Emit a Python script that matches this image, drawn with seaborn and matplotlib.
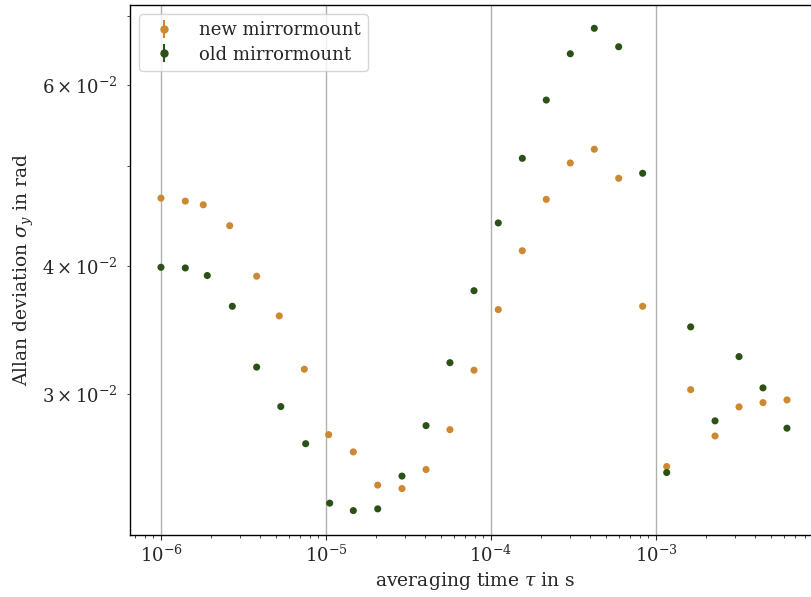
import numpy as np
import pandas as pd
import matplotlib
matplotlib.use("Agg")
import matplotlib.pyplot as plt
import seaborn as sns

# ---- data ----
tau_new = [1.00e-6, 1.404e-6, 1.804e-6, 2.609e-6, 3.80e-6, 5.21e-6, 7.39e-6,
           1.038e-5, 1.464e-5, 2.058e-5, 2.888e-5, 4.04e-5, 5.64e-5, 7.89e-5,
           1.107e-4, 1.548e-4, 2.163e-4, 3.024e-4, 4.227e-4, 5.94e-4, 8.30e-4,
           1.161e-3, 1.622e-3, 2.279e-3, 3.185e-3, 4.45e-3, 6.22e-3]
adev_new = [0.04655, 0.04624, 0.04586, 0.04376, 0.03907, 0.03574, 0.03171,
            0.02738, 0.02634, 0.02445, 0.02426, 0.02532, 0.02769, 0.03164,
            0.03625, 0.04137, 0.04642, 0.05037, 0.05195, 0.04867, 0.03652,
            0.02549, 0.03029, 0.02730, 0.02914, 0.02942, 0.02960]

tau_old = [1.00e-6, 1.404e-6, 1.908e-6, 2.706e-6, 3.80e-6, 5.32e-6, 7.53e-6,
           1.053e-5, 1.464e-5, 2.058e-5, 2.888e-5, 4.04e-5, 5.64e-5, 7.89e-5,
           1.107e-4, 1.548e-4, 2.163e-4, 3.024e-4, 4.227e-4, 5.94e-4, 8.30e-4,
           1.161e-3, 1.622e-3, 2.279e-3, 3.185e-3, 4.45e-3, 6.22e-3]
adev_old = [0.03986, 0.03980, 0.03913, 0.03652, 0.03186, 0.02916, 0.02683,
            0.02348, 0.02309, 0.02318, 0.02495, 0.02794, 0.03218, 0.03782,
            0.04403, 0.05090, 0.05801, 0.06436, 0.06814, 0.06538, 0.04922,
            0.02515, 0.03487, 0.02824, 0.03262, 0.03041, 0.02778]

labels = ["new mirrormount", "old mirrormount"]
colors = ["#CD8832", "#2C5117"]

df = pd.concat([
    pd.DataFrame({"tau": tau_new, "adev": adev_new, "series": labels[0]}),
    pd.DataFrame({"tau": tau_old, "adev": adev_old, "series": labels[1]}),
], ignore_index=True)

sns.set_style("ticks")
plt.rcParams["font.family"] = ["DejaVu Serif"]
plt.rcParams["mathtext.fontset"] = "dejavuserif"
plt.rcParams["font.size"] = 13

fig = plt.figure(figsize=(8.12, 5.97), dpi=100)
ax = fig.add_axes([130 / 812, 62 / 597, 690 / 812, 530 / 597])

sns.scatterplot(data=df, x="tau", y="adev", hue="series",
                palette=dict(zip(labels, colors)), s=26, linewidth=0,
                legend=False, ax=ax, zorder=3)

ax.set_xscale("log")
ax.set_yscale("log")
ax.set_xlim(6.49e-7, 9.86e-3)
ax.set_ylim(0.02186, 0.0718)
ax.grid(True, which="major", color="#b0b0b0", linewidth=1.0)
ax.set_axisbelow(True)

# legend with errorbar-style handles
handles = []
for lab, tx, ay, c in [(labels[0], tau_new, adev_new, colors[0]),
                       (labels[1], tau_old, adev_old, colors[1])]:
    h = ax.errorbar(tx[:1], ay[:1], yerr=[0], fmt="o", ms=5, color=c,
                    elinewidth=1.5, label=lab)
    handles.append(h)
leg = ax.legend(handles=handles, labels=labels, loc="upper left",
                fontsize=13, frameon=True, handletextpad=0.9,
                borderaxespad=0.5, borderpad=0.4, labelspacing=0.35)
for h in handles:
    h.remove()

ax.set_xlabel(r"averaging time $\tau$ in s", fontsize=13.5, labelpad=3)
ax.set_ylabel(r"Allan deviation $\sigma_y$ in rad", fontsize=13.5)
ax.tick_params(labelsize=13)
ax.tick_params(axis="y", which="both", pad=7)
for s in ax.spines.values():
    s.set_color("black")
    s.set_linewidth(1.0)

fig.savefig("out.png", dpi=100)
